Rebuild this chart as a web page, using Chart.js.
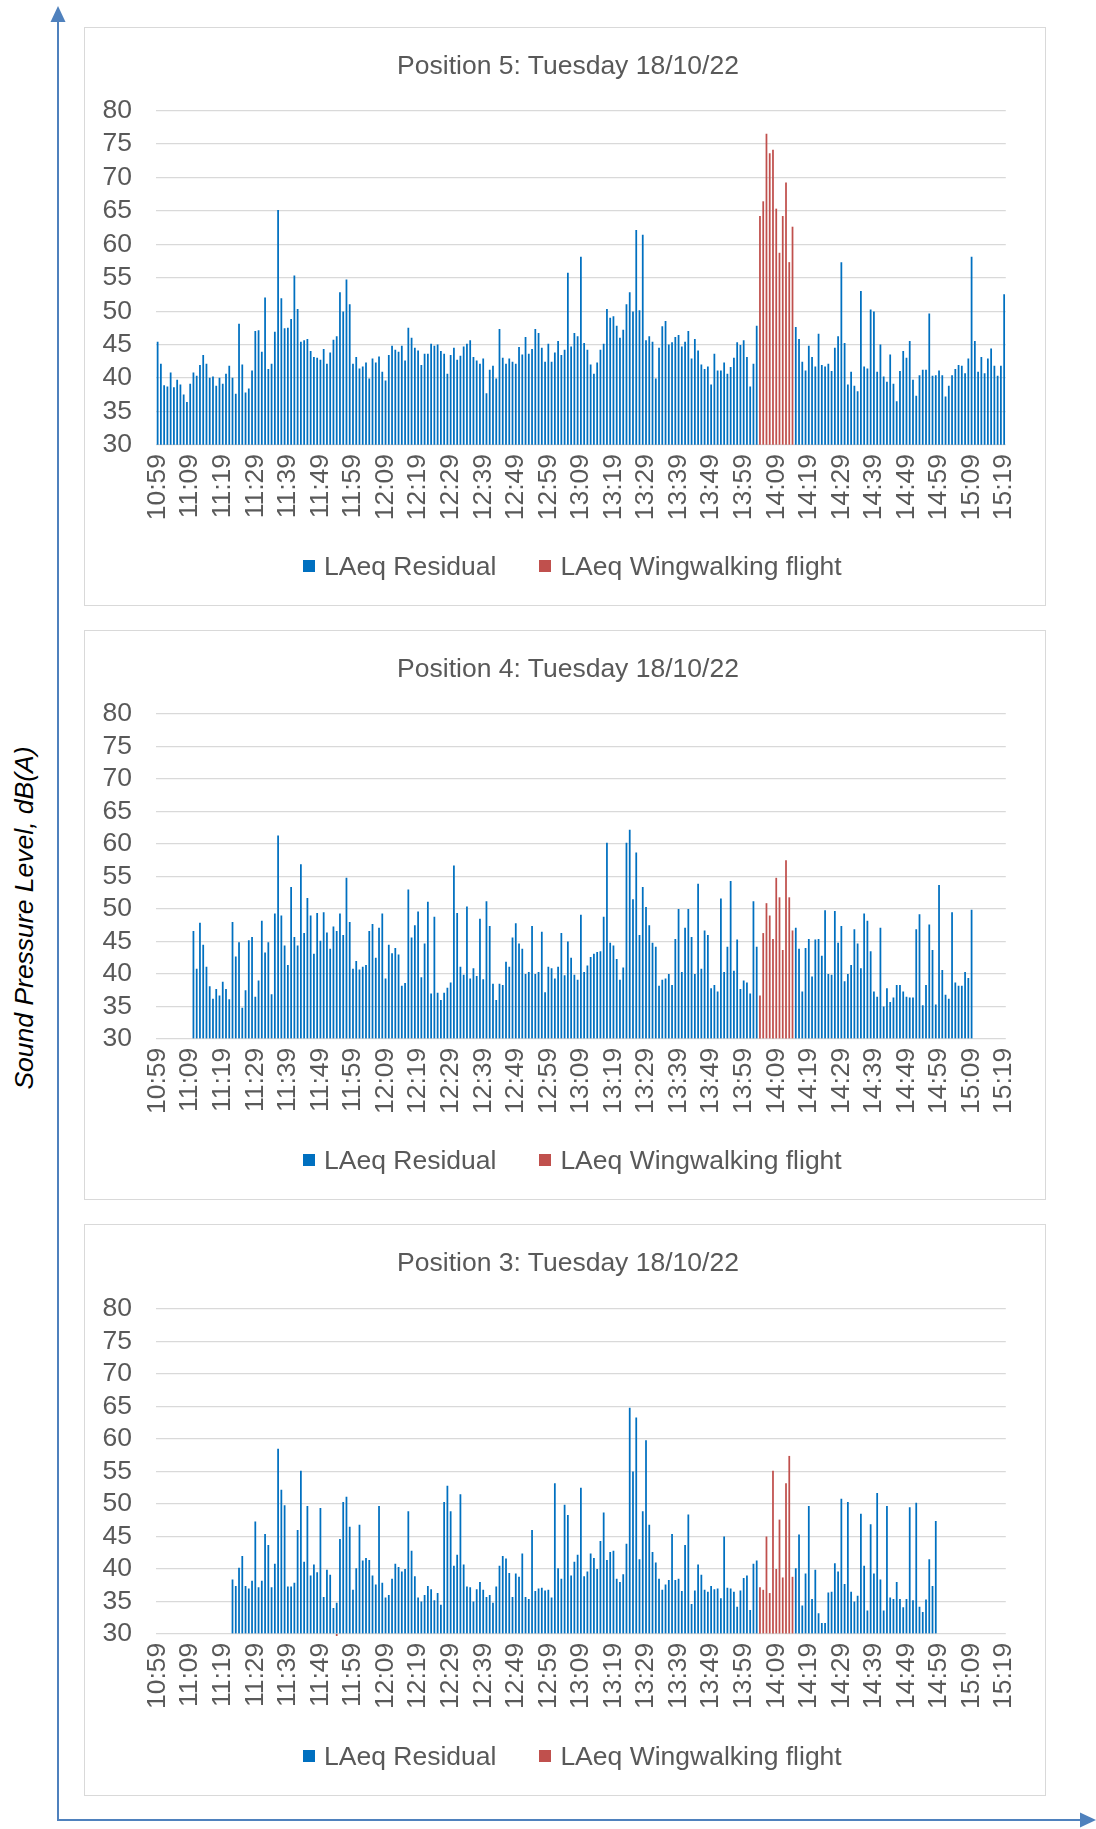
<!DOCTYPE html>
<html>
<head>
<meta charset="utf-8">
<title>Sound Pressure Level</title>
<script src="https://cdn.jsdelivr.net/npm/chart.js@4.4.1/dist/chart.umd.min.js"></script>
<style>
  body { margin: 0; background: #fff; width: 1096px; height: 1829px; position: relative; overflow: hidden;
         font-family: "Liberation Sans", Arial, sans-serif; }
  .box { position: absolute; left: 84px; width: 962px; border: 1px solid #d9d9d9; box-sizing: border-box; background: #fff; }
  .box canvas { display: block; }
  .title { position: absolute; left: 0; width: 966px; top: 21px; text-align: center; font-size: 26.5px;
           line-height: 32px; color: #595959; white-space: nowrap; }
  .legend { position: absolute; left: 218px; bottom: 23px; font-size: 26.5px; line-height: 32px; color: #595959;
            white-space: nowrap; display: flex; align-items: center; }
  .legend i { display: inline-block; width: 12px; height: 12px; margin-right: 9px; }
  .legend span + i { margin-left: 43px; }
  #arrows { position: absolute; left: 0; top: 0; }
  #ytitle { position: absolute; left: 24px; top: 918px; transform: translate(-50%, -50%) rotate(-90deg);
            font-style: italic; font-size: 26.5px; white-space: nowrap; color: #000; }
</style>
</head>
<body>

<svg id="arrows" width="1096" height="1829">
  <line x1="58" y1="1821" x2="58" y2="20" stroke="#4f81bd" stroke-width="2"/>
  <polygon points="58,6 50.5,22 65.5,22" fill="#4f81bd"/>
  <line x1="57" y1="1820" x2="1082" y2="1820" stroke="#4f81bd" stroke-width="2"/>
  <polygon points="1096,1820 1080,1812.5 1080,1827.5" fill="#4f81bd"/>
</svg>
<div id="ytitle">Sound Pressure Level, dB(A)</div>

<div class="box" style="top:27px;height:579px">
  <canvas id="chart5" width="960" height="577"></canvas>
  <div class="title" id="title5"></div>
  <div class="legend"><i class="c0"></i><span class="n0"></span><i class="c1"></i><span class="n1"></span></div>
</div>
<div class="box" style="top:630px;height:570px">
  <canvas id="chart4" width="960" height="568"></canvas>
  <div class="title" id="title4"></div>
  <div class="legend"><i class="c0"></i><span class="n0"></span><i class="c1"></i><span class="n1"></span></div>
</div>
<div class="box" style="top:1224px;height:572px">
  <canvas id="chart3" width="960" height="570"></canvas>
  <div class="title" id="title3"></div>
  <div class="legend"><i class="c0"></i><span class="n0"></span><i class="c1"></i><span class="n1"></span></div>
</div>

<script>
// time axis: one bar per minute
var firstMinute = '10:59';
var lastMinute = '15:19';
var xTickLabels = ['10:59', '11:09', '11:19', '11:29', '11:39', '11:49', '11:59', '12:09', '12:19',
  '12:29', '12:39', '12:49', '12:59', '13:09', '13:19', '13:29', '13:39', '13:49', '13:59',
  '14:09', '14:19', '14:29', '14:39', '14:49', '14:59', '15:09', '15:19'];
var yMin = 30, yMax = 80, yStep = 5;

var seriesNames = ['LAeq Residual', 'LAeq Wingwalking flight'];
var flightStart = '14:04';
var afterFlightStart = '14:15';

// Position 5
var pos5Title = 'Position 5: Tuesday 18/10/22';
var pos5ResidualStart = '10:59';
var pos5Residual = [45.4, 42.1, 38.9, 38.7, 40.8, 38.6, 39.7, 39.0, 37.5, 36.4,
  39.1, 40.8, 40.3, 41.9, 43.4, 42.1, 40.0, 40.2, 38.8, 40.0,
  39.1, 40.6, 41.8, 40.0, 37.6, 48.1, 42.0, 37.8, 38.4, 41.1,
  47.0, 47.1, 43.9, 52.0, 41.3, 42.1, 46.9, 65.1, 51.9, 47.4,
  47.5, 48.8, 55.3, 50.3, 45.4, 45.6, 45.8, 44.0, 43.1, 43.0,
  42.7, 44.3, 42.1, 43.8, 45.7, 46.2, 52.8, 49.9, 54.7, 51.0,
  42.1, 43.1, 41.4, 41.7, 42.3, 39.9, 42.9, 42.3, 43.2, 40.9,
  39.6, 43.4, 44.8, 44.2, 43.9, 44.8, 42.6, 47.5, 46.0, 44.5,
  44.1, 41.9, 43.6, 43.6, 45.1, 44.8, 45.0, 44.0, 43.6, 40.6,
  43.4, 44.5, 42.7, 43.3, 44.7, 45.1, 45.6, 43.1, 42.6, 42.1,
  42.9, 37.7, 41.2, 41.8, 39.9, 47.3, 43.0, 42.1, 42.9, 42.4,
  42.1, 44.6, 43.5, 46.1, 43.6, 44.3, 47.3, 46.7, 44.5, 42.4,
  45.1, 42.4, 43.8, 45.5, 43.4, 44.2, 55.7, 44.7, 46.7, 46.2,
  58.1, 45.2, 44.2, 42.0, 40.6, 42.3, 44.2, 45.1, 50.3, 49.0,
  49.2, 47.8, 46.0, 47.2, 51.0, 52.8, 49.9, 62.1, 50.1, 61.4,
  45.6, 46.2, 45.4, 39.9, 44.5, 47.7, 48.5, 45.0, 45.3, 46.1,
  46.4, 44.7, 45.4, 47.0, 42.9, 45.8, 44.1, 42.0, 41.3, 41.7,
  39.0, 43.6, 41.1, 41.1, 42.3, 40.6, 41.6, 43.0, 45.3, 44.9,
  45.6, 43.1, 38.7, 42.1, 47.8];
var pos5Flight = [64.2, 66.4, 76.5, 73.6, 74.1, 65.3, 58.7, 64.2, 69.2, 57.3, 62.6];
var pos5ResidualAfter = [47.6, 45.8, 42.4, 41.1,
  44.8, 43.1, 41.7, 46.6, 41.9, 41.7, 42.1, 41.0, 44.5, 46.2,
  57.3, 45.2, 39.0, 40.9, 38.8, 38.0, 53.0, 41.7, 41.4, 50.2,
  49.9, 40.9, 45.0, 40.2, 39.4, 43.5, 39.1, 36.5, 41.0, 44.0,
  43.0, 45.5, 39.7, 37.3, 40.4, 41.2, 41.2, 49.6, 40.3, 40.4,
  41.1, 40.4, 37.2, 38.8, 40.4, 41.3, 41.9, 41.8, 40.7, 42.9,
  58.1, 45.5, 40.9, 43.1, 40.7, 42.9, 44.4, 41.8, 40.3, 41.8, 52.5];

// Position 4
var pos4Title = 'Position 4: Tuesday 18/10/22';
var pos4ResidualStart = '11:10';
var pos4Residual = [46.5, 40.7, 47.8, 44.4, 41.0, 38.0, 36.1, 37.6, 36.6,
  38.7, 37.6, 36.0, 47.9, 42.6, 44.8, 34.7, 37.4, 45.1, 45.6,
  36.4, 38.9, 48.1, 43.2, 44.8, 36.8, 49.2, 61.2, 48.9, 44.3,
  41.3, 53.3, 45.6, 44.3, 56.8, 46.2, 51.6, 48.9, 43.0, 49.3,
  45.0, 49.4, 46.3, 43.8, 47.2, 46.5, 49.2, 45.9, 54.7, 47.9,
  40.7, 41.9, 40.6, 41.0, 41.3, 46.5, 47.6, 42.4, 47.0, 49.2,
  39.2, 44.4, 43.1, 43.9, 42.9, 38.1, 38.5, 52.9, 45.5, 47.4,
  49.5, 39.4, 44.6, 51.0, 36.9, 48.7, 37.0, 35.9, 37.0, 37.8,
  38.6, 56.6, 49.3, 41.0, 39.8, 50.3, 39.2, 40.8, 39.6, 48.4,
  39.1, 51.1, 47.3, 38.4, 35.9, 38.4, 38.2, 41.8, 41.0, 45.5,
  47.7, 44.6, 43.8, 39.9, 40.2, 47.3, 39.9, 40.2, 46.4, 37.1,
  41.0, 40.8, 39.2, 41.0, 46.2, 39.7, 44.9, 42.4, 39.8, 39.0,
  49.0, 40.2, 41.2, 42.5, 43.0, 43.3, 43.4, 48.7, 60.1, 44.7,
  44.3, 42.2, 39.0, 40.9, 60.1, 62.1, 51.4, 58.6, 45.9, 53.3,
  50.2, 47.4, 44.7, 44.1, 38.1, 39.0, 39.2, 39.9, 38.2, 45.3,
  49.9, 40.2, 47.0, 49.9, 45.6, 39.9, 53.8, 40.7, 46.6, 45.9,
  37.7, 38.2, 37.2, 51.5, 40.2, 44.1, 54.2, 40.4, 45.2, 37.6,
  38.9, 38.6, 36.9, 51.1, 44.1];
var pos4Flight = [36.6, 46.2, 50.8, 48.9, 45.3, 54.7, 51.7, 43.6, 57.4, 51.7, 46.6];
var pos4ResidualAfter = [47.0, 43.8, 37.2, 43.9,
  45.3, 39.5, 45.2, 45.3, 42.7, 49.7, 39.9, 39.8, 49.6, 44.7,
  47.3, 38.8, 39.9, 41.3, 46.8, 44.6, 40.8, 49.2, 48.1, 43.4,
  37.2, 36.4, 47.0, 34.9, 37.7, 35.6, 36.3, 38.2, 38.2, 37.2,
  36.4, 36.3, 36.3, 46.8, 49.1, 35.1, 38.2, 47.5, 43.6, 35.2,
  53.6, 40.5, 36.7, 36.1, 49.4, 38.6, 38.1, 38.1, 40.2, 39.3, 49.8];

// Position 3
var pos3Title = 'Position 3: Tuesday 18/10/22';
var pos3ResidualStart = '11:22';
var pos3Residual = [38.3, 37.3, 40.1, 41.9, 37.3, 36.9, 38.1,
  47.2, 37.1, 38.1, 45.3, 43.6, 37.1, 40.7, 58.4, 52.1, 49.7,
  37.2, 37.2, 37.8, 45.9, 55.0, 41.0, 49.6, 38.9, 40.6, 39.4,
  49.3, 35.6, 39.8, 39.0, 33.9, 34.7, 44.5, 50.2, 51.0, 46.4,
  36.7, 40.0, 46.7, 41.2, 41.6, 41.3, 38.9, 37.5, 49.6, 37.8,
  35.5, 35.9, 38.4, 40.7, 40.2, 39.5, 39.9, 48.8, 42.7, 38.8,
  35.5, 34.9, 35.9, 37.3, 36.8, 35.1, 36.2, 34.4, 50.2, 52.7,
  48.8, 40.4, 42.1, 51.4, 40.6, 37.2, 37.1, 34.9, 36.8, 37.9,
  36.7, 35.6, 35.9, 34.7, 37.2, 40.4, 41.9, 41.5, 39.3, 35.6,
  39.2, 38.7, 42.3, 35.6, 35.3, 45.9, 36.5, 36.9, 37.0, 36.6,
  36.7, 35.5, 53.1, 40.0, 38.4, 49.8, 48.2, 38.9, 41.0, 42.1,
  52.4, 38.8, 39.5, 42.3, 41.6, 39.9, 44.2, 48.6, 41.3, 42.5,
  42.7, 38.4, 37.9, 39.1, 43.8, 64.7, 54.9, 63.2, 41.4, 48.8,
  59.7, 46.7, 42.5, 40.9, 38.4, 36.7, 37.5, 38.2, 45.3, 38.2,
  38.4, 36.5, 43.6, 48.3, 34.5, 36.6, 40.6, 39.0, 36.7, 36.4,
  37.3, 36.8, 36.9, 35.4, 44.9, 37.0, 36.9, 36.4, 34.1, 36.6,
  38.5, 38.9, 33.6, 40.7, 41.2];
var pos3Flight = [37.1, 36.7, 44.9, 36.2, 55.0, 39.9, 47.5, 38.6, 53.1, 57.3, 38.7];
var pos3ResidualAfter = [40.0, 45.2, 34.3, 39.2,
  49.6, 35.3, 39.8, 33.1, 31.6, 31.6, 36.3, 36.4, 40.8, 39.5,
  50.7, 37.6, 50.2, 36.4, 34.9, 35.8, 48.4, 40.4, 33.5, 46.8,
  39.2, 51.6, 38.3, 33.5, 49.6, 35.5, 35.3, 37.9, 35.3, 34.0,
  35.3, 49.4, 35.1, 50.1, 34.1, 33.3, 35.2, 41.4, 37.3, 47.3];
// a stray flight reading just under the axis minimum
var pos3FlightStrayStart = '11:54';
var pos3FlightStray = [29.7];

var blue = '#0070c0';
var red = '#c0504d';
var textColor = '#595959';
var gridColor = '#d9d9d9';

function toMin(t) { var p = t.split(':'); return +p[0] * 60 + +p[1]; }
function toLabel(n) { return Math.floor(n / 60) + ':' + String(n % 60).padStart(2, '0'); }

var minutes = [];
for (var n = toMin(firstMinute); n <= toMin(lastMinute); n++) minutes.push(toLabel(n));

// put a run of values onto the minute axis
function place(out, start, values) {
  var s = minutes.indexOf(start);
  values.forEach(function (v, k) { out[s + k] = v; });
  return out;
}
function empty() { return minutes.map(function () { return null; }); }

Chart.defaults.font.family = '"Liberation Sans", Arial, sans-serif';
Chart.defaults.color = textColor;

// html title and legend text
document.querySelectorAll('.legend .c0').forEach(function (el) { el.style.background = blue; });
document.querySelectorAll('.legend .c1').forEach(function (el) { el.style.background = red; });
document.querySelectorAll('.legend .n0').forEach(function (el) { el.textContent = seriesNames[0]; });
document.querySelectorAll('.legend .n1').forEach(function (el) { el.textContent = seriesNames[1]; });

function makeChart(id, titleId, title, residual, wing, padTop, padBottom) {
  document.getElementById(titleId).textContent = title;
  var ctx = document.getElementById(id).getContext('2d');
  return new Chart(ctx, {
    type: 'bar',
    data: {
      labels: minutes,
      datasets: [{
        label: seriesNames[0],
        data: residual,
        backgroundColor: blue,
        borderWidth: 0,
        barThickness: 1.1,
        base: yMin,
        grouped: false
      }, {
        label: seriesNames[1],
        data: wing,
        backgroundColor: red,
        borderWidth: 0,
        barThickness: 1.1,
        base: yMin,
        grouped: false,
        clip: false
      }]
    },
    options: {
      responsive: false,
      animation: false,
      layout: { padding: { left: 0, right: 27, top: padTop, bottom: padBottom } },
      plugins: {
        title: { display: false },
        legend: { display: false },
        tooltip: { enabled: false }
      },
      scales: {
        x: {
          offset: true,
          grid: { display: false, drawTicks: false },
          border: { display: false },
          ticks: {
            autoSkip: false,
            minRotation: 90,
            maxRotation: 90,
            padding: 9,
            color: textColor,
            font: { size: 26.5 },
            callback: function (value) {
              var l = this.getLabelForValue(value);
              return xTickLabels.indexOf(l) >= 0 ? l : '';
            }
          },
          afterFit: function (scale) { scale.height = 90; }
        },
        y: {
          min: yMin,
          max: yMax,
          grid: { color: gridColor, lineWidth: 1.3, drawTicks: false },
          border: { display: false },
          ticks: { stepSize: yStep, autoSkip: false, padding: 24, color: textColor, font: { size: 26.5 } },
          afterFit: function (scale) { scale.width = 71; }
        }
      }
    }
  });
}

makeChart('chart5', 'title5', pos5Title,
  place(place(empty(), pos5ResidualStart, pos5Residual), afterFlightStart, pos5ResidualAfter),
  place(empty(), flightStart, pos5Flight), 82.7, 70);
makeChart('chart4', 'title4', pos4Title,
  place(place(empty(), pos4ResidualStart, pos4Residual), afterFlightStart, pos4ResidualAfter),
  place(empty(), flightStart, pos4Flight), 82.7, 70.3);
makeChart('chart3', 'title3', pos3Title,
  place(place(empty(), pos3ResidualStart, pos3Residual), afterFlightStart, pos3ResidualAfter),
  place(place(empty(), flightStart, pos3Flight), pos3FlightStrayStart, pos3FlightStray), 83.7, 71.3);
</script>
</body>
</html>
